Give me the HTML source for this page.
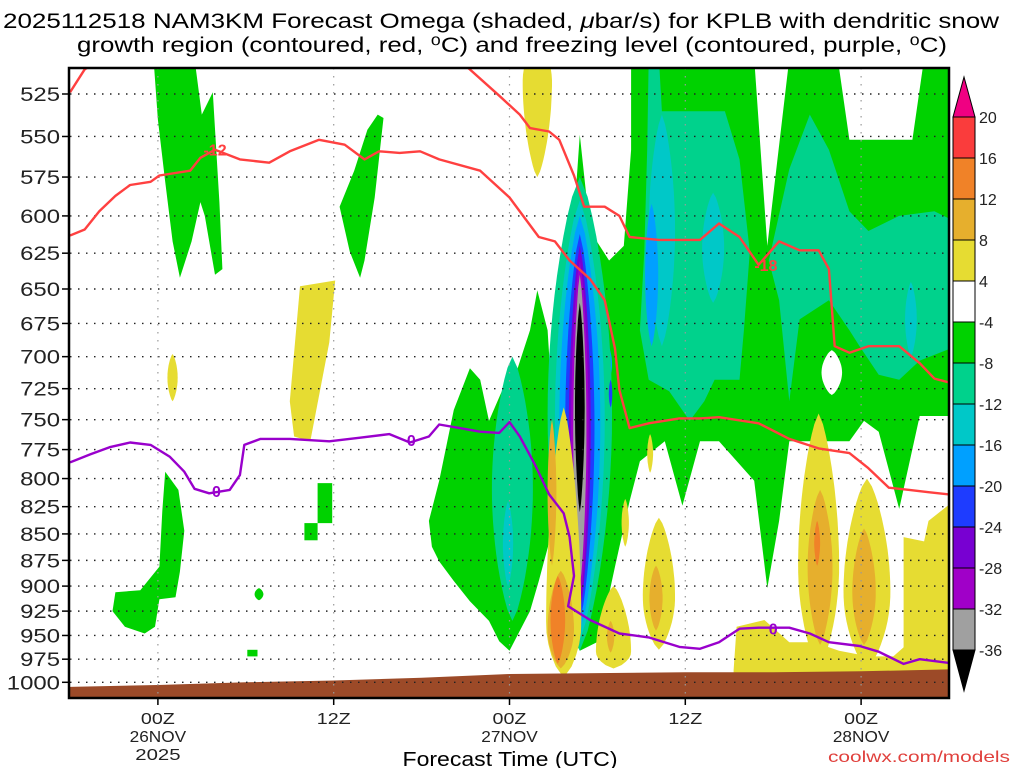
<!DOCTYPE html>
<html><head><meta charset="utf-8"><style>
html,body{margin:0;padding:0;background:#fff;width:1024px;height:768px;overflow:hidden}
svg{display:block;font-family:"Liberation Sans",sans-serif}
</style></head><body>
<svg id="chart" width="1024" height="768" viewBox="0 0 1024 768" xmlns="http://www.w3.org/2000/svg">
<text x="501" y="28" text-anchor="middle" font-size="21" fill="#000" textLength="996" lengthAdjust="spacingAndGlyphs">2025112518 NAM3KM Forecast Omega (shaded, <tspan font-style="italic">μ</tspan>bar/s) for KPLB with dendritic snow</text>
<text x="512" y="52" text-anchor="middle" font-size="21" fill="#000" textLength="870" lengthAdjust="spacingAndGlyphs">growth region (contoured, red, ⁰C) and freezing level (contoured, purple, ⁰C)</text>
<defs><clipPath id="plotclip"><rect x="70" y="68" width="878" height="629"/></clipPath></defs>
<g id="shading" clip-path="url(#plotclip)"></g>
<g id="grid"></g>
<g id="lines" clip-path="url(#plotclip)"></g>
<g id="axes"></g>
<g id="cbar"></g>
<text x="510" y="766" text-anchor="middle" font-size="20" fill="#000" textLength="215" lengthAdjust="spacingAndGlyphs">Forecast Time (UTC)</text>
<text x="1010" y="762" text-anchor="end" font-size="16" fill="#e0403c" textLength="182" lengthAdjust="spacingAndGlyphs">coolwx.com/models</text>
</svg>
<script>
// ---- data ----
const pressureTicks = [525,550,575,600,625,650,675,700,725,750,775,800,825,850,875,900,925,950,975,1000];
const timeTickHours = [6,18,30,42,54];
const timeTickLabels = [["00Z","26NOV","2025"],["12Z"],["00Z","27NOV"],["12Z"],["00Z","28NOV"]];
const cbarLevels = [20,16,12,8,4,-4,-8,-12,-16,-20,-24,-28,-32,-36];
const cbarColors = ["#f00082","#fa3c3c","#f08228","#e6af2d","#e6dc32","#ffffff","#00d200","#00d28c","#00c8c8","#00a0ff","#1e3cff","#7800d2","#a000c8","#a0a0a0","#000000"];
const C = {green:"#00d200",teal:"#00d28c",cyan:"#00c8c8",blue:"#00a0ff",dblue:"#1e3cff",purple:"#7800d2",violet:"#a000c8",gray:"#a0a0a0",black:"#000000",yellow:"#e6dc32",dyellow:"#e6af2d",orange:"#f08228",white:"#ffffff"};

// polygons: [color, hours[], pressures[]]
const polyGreenMain = ["green",
 [38.3,46.7,47.6,49.1,52.4,53.2,57.5,58.3,60.5,60.5,58,56.6,55.2,54.2,53.2,49.1,48.4,47.6,46.7,44.3,43,41.8,40.6,38.9,38.2,37.2,36.1,34.8,33.7,33.1,32.9,33.4,34.1,34.8,35.5,36.8,37.8,38.3],
 [505,505,620,505,505,552,552,505,505,747,747,827,760,751,768,768,838,902,802,768,768,824,768,785,820,881,956,966,935,838,735,680,644,549,610,630,620,558]];
const polyGreenLowLeft = ["green",
 [24.5,25.2,26.2,27.3,28,28.6,29.7,30.3,31.4,31.9,32.6,32.9,33.1,32,31.4,30,29.3,28.6,27.3,26.2,25.2,24.7],
 [838,802,742,709,718,751,721,718,680,651,680,735,838,895,925,966,956,935,915,895,876,862]];
const polyGreenTopLeft = ["green",
 [5.7,8.5,9,9.75,10.2,10.4,9.9,9.2,8.9,8.3,7.5,7,6.5,6],
 [505,505,537,524,591,636,640,600,591,617,642,617,578,540]];
const polyGreenCol = ["green",[21,21.4,20.8,20.1,19.8,19.1,18.4,19.4,20.3],[537,539,588,630,642,624,594,571,546]];
const polyGreenLeftLow = ["green",
 [6.5,7.4,7.8,7.5,7.2,6.1,5.8,5.1,3.75,2.9,3.1,4.8,6.1,6.3],
 [794,810,847,886,911,913,941,948,941,925,906,904,881,829]];
const polyGreenSq1 = ["green",[16.9,17.9,17.9,16.9],[804,804,840,840]];
const polyGreenSq2 = ["green",[16,16.9,16.9,16],[840,840,856,856]];
const polyGreenSq3 = ["green",[12.1,12.8,12.8,12.1],[965,965,972,972]];
const polyTealLeft = ["teal",
 [39.5,40.2,40.4,42.6,44.7,45.7,46.4,46,45.7,44,43.3,42.3,40.9,39.5,38.9,39.2,39.4],
 [505,505,535,535,535,564,624,680,718,718,735,751,727,718,680,624,558]];
const polyTealRight = ["teal",
 [47.7,49.1,50.5,51.8,53.2,54.5,56.6,59,60.5,60.5,58,56.6,55.2,53.9,53.2,51.8,49.8,49.1,48.4],
 [630,570,537,558,597,610,600,597,604,692,703,718,714,692,680,658,672,735,658]];
const polyYellowBand = ["yellow",
 [45.3,45.5,47.4,49.1,50.8,52.5,54.5,56.2,57.3,58.6,60.5,60.5,45.3],
 [987,941,934,957,957,966,972,972,957,976,976,995,995]];
const polyYellowRight = ["yellow",[56.9,58.3,58.6,60.5,60.5,56.9],[853,857,838,818,995,995]];
const polyYellowLeft = ["yellow",[15.7,18.1,17.7,16.4,15.3,15],[648,644,689,768,764,735]];
const polys = [polyGreenMain,polyGreenLowLeft,polyGreenTopLeft,polyGreenCol,polyGreenLeftLow,polyGreenSq1,polyGreenSq2,polyGreenSq3,polyTealLeft,polyTealRight];
const polysPos = [polyYellowBand,polyYellowRight,polyYellowLeft];

// lenses: color, center hour, top pressure, bottom pressure, half-width (hours), peak position
const lensColor = ["green","teal","cyan","white","cyan","blue","cyan","cyan","blue","teal","cyan","blue","dblue","purple","violet","gray","black","dblue",
 "yellow","dyellow","orange","dyellow","yellow","dyellow","yellow","dyellow","yellow","yellow","yellow","yellow","dyellow","orange","yellow","dyellow","yellow"];
const lensHour = [12.9,30.2,29.9,52,40.4,39.7,43.9,57.4,36.4,34.8,34.8,34.8,34.8,34.8,34.8,34.8,34.8,36.9,
 33.7,33.5,33.3,32.9,37.1,36.9,40.2,40,39.6,37.9,31.9,51.1,51.2,51,54.4,54.2,7.0];
const lensTop = [902,700,820,695,537,592,585,645,685,575,590,600,612,620,630,640,660,718,
 740,885,890,750,900,935,835,880,762,818,495,745,810,838,800,845,698];
const lensBot = [914,935,900,730,692,692,660,700,727,966,955,945,935,925,915,900,830,740,
 995,985,980,880,985,968,965,945,795,862,575,985,960,880,985,960,735];
const lensHalf = [0.3,1.4,0.35,0.7,0.9,0.45,0.75,0.4,0.6,2.2,1.7,1.4,1.0,0.75,0.6,0.45,0.33,0.12,
 1.2,0.9,0.5,0.3,1.2,0.25,1.1,0.45,0.2,0.25,1.0,1.4,0.85,0.2,1.6,0.8,0.35];
const lensPeak = [0.5,0.5,0.5,0.5,0.5,0.5,0.5,0.5,0.5,0.5,0.5,0.5,0.5,0.5,0.5,0.5,0.5,0.5,
 0.8,0.6,0.5,0.5,0.8,0.5,0.6,0.5,0.5,0.5,0.3,0.6,0.5,0.5,0.6,0.55,0.5];

// terrain surface
const terrainHours = [0,6,12,18,24,30,36,42,48,54,60];
const terrainPres = [1005,1003,1000,998,995,991,990,989,989,988,986];

// contour lines
const redUpperHours = [0,1,2,26.6,29.3,30.7,31.4,32.7,33.4,34.4,35.1,36.5,37.5,38.2,40.2,43,44.3,45.7,47,48.4,49.8,51.1,51.8,52.2,53.2,54.5,56.6,58,59,60];
const redUpperPres  = [524,511,506,506,526,537,545,547,552,574,594,594,600,614,616,616,605,614,633,617,623,623,636,692,697,692,692,705,717,720];
const redLowerHours = [0,1,2,3.1,4.1,5.5,6.1,8.2,8.9,9.9,11.6,13.6,15,17,18.75,20.1,21.1,22.5,23.9,25.2,28,30,32,33.1,34.1,35.5,36.5,37.2,37.5,38.2,39.5,41.6,43,44.3,47,49.1,51.1,53.2,54.5,55.9,57.3,58.6,60];
const redLowerPres  = [613,609,597,587,580,578,574,571,563,558,564,566,559,552,555,564,559,560,559,564,571,588,614,617,630,643,658,694,726,757,753,749,749,748,753,766,774,778,791,808,810,812,814];
const frzHours = [0,1.4,2.7,4.1,5.5,6.8,7.8,8.5,9.5,10.9,11.6,11.9,13,15,17.7,19.8,21.8,23.2,24.5,25.2,26.6,28,29.3,30,30.7,31.7,32.7,33.7,34.1,34.4,34,35.5,37.5,39.5,41.6,43,44.3,45.7,47,49.1,50.5,51.8,53.9,55.2,56.9,58,60];
const frzPres  = [786,779,773,769,771,781,794,809,813,810,797,771,766,766,768,765,762,769,764,754,757,760,761,752,764,787,814,831,853,890,920,934,948,952,962,964,957,943,942,942,948,957,961,967,980,975,979];
const contourLabels = [["-12",9.9,558,"#ff4040"],["-18",47.5,633,"#ff4040"],["0",10,811,"#9900cc"],["0",23.3,767,"#9900cc"],["0",48,943,"#9900cc"]];

// ---- scales ----
const X0=70, PXH=14.65;
function xOf(h){return X0+h*PXH;}
function yOf(p){return 94+913*Math.log(p/525);}
const NS="http://www.w3.org/2000/svg";
function mk(tag,attrs,parent){const e=document.createElementNS(NS,tag);for(const k in attrs)e.setAttribute(k,attrs[k]);parent.appendChild(e);return e;}

const shading=document.getElementById('shading');
function drawPoly(poly,name){
  const pts=poly[1].map((h,i)=>xOf(h).toFixed(1)+","+yOf(poly[2][i]).toFixed(1)).join(" ");
  const e=mk('polygon',{points:pts,fill:C[poly[0]]},shading);
  
  
}
function drawLens(i){
  const yt=yOf(lensTop[i]), yb=yOf(lensBot[i]), cx=xOf(lensHour[i]), hw=lensHalf[i]*PXH, pk=lensPeak[i];
  const L=[],R=[];
  for(let k=0;k<=24;k++){
    const t=k/24; const tt = t<pk ? 0.5*t/pk : 0.5+0.5*(t-pk)/(1-pk);
    const w=hw*Math.pow(Math.sin(Math.PI*tt),0.7);
    const y=yt+(yb-yt)*t;
    L.push((cx-w).toFixed(1)+","+y.toFixed(1)); R.unshift((cx+w).toFixed(1)+","+y.toFixed(1));
  }
  const e=mk('polygon',{points:L.concat(R).join(" "),fill:C[lensColor[i]]},shading);
  
  
}
polys.forEach((p,i)=>drawPoly(p,'omega-region-'+p[0]));
for(let i=0;i<18;i++) drawLens(i);
polysPos.forEach(p=>drawPoly(p,'omega-region-'+p[0]));
for(let i=18;i<lensColor.length;i++) drawLens(i);
// terrain
{
  let d="M"+xOf(-1)+",700 ";
  terrainHours.forEach((h,i)=>{d+="L"+xOf(h).toFixed(1)+","+yOf(terrainPres[i]).toFixed(1)+" ";});
  d+="L"+xOf(61)+","+yOf(terrainPres[terrainPres.length-1]).toFixed(1)+" L"+xOf(61)+",700 Z";
  const e=mk('path',{d:d,fill:"#9c4a28"},shading);
  
  
}
// grid
const grid=document.getElementById('grid');
pressureTicks.forEach(p=>{
  const e=mk('line',{x1:70,x2:948,y1:yOf(p),y2:yOf(p),stroke:"#222","stroke-width":1.4,"stroke-dasharray":"1.5 6.5"},grid);
  
  
});
timeTickHours.forEach(h=>{
  const e=mk('line',{x1:xOf(h),x2:xOf(h),y1:68,y2:697,stroke:"#999","stroke-width":1.2,"stroke-dasharray":"1.5 6.5"},grid);
  
  
});
// lines
const lines=document.getElementById('lines');
function drawLine(hs,ps,color,name){
  const pts=hs.map((h,i)=>xOf(h).toFixed(1)+","+yOf(ps[i]).toFixed(1)).join(" ");
  const e=mk('polyline',{points:pts,fill:"none",stroke:color,"stroke-width":2.4,"stroke-linejoin":"round"},lines);
  
  
}
drawLine(redUpperHours,redUpperPres,"#ff4040","dgz-upper-contour");
drawLine(redLowerHours,redLowerPres,"#ff4040","dgz-lower-contour");
drawLine(frzHours,frzPres,"#9900cc","freezing-level-contour");
contourLabels.forEach(l=>{
  const x=xOf(l[1]), y=yOf(l[2]);
  const t=mk('text',{x:x,y:y+6,"text-anchor":"middle","font-size":16,"font-weight":"bold",fill:l[3]},lines);
  t.textContent=l[0];
  
  
});
// axes
const axes=document.getElementById('axes');
mk('rect',{x:69,y:68,width:880,height:630,fill:"none",stroke:"#000","stroke-width":2.5},axes);
pressureTicks.forEach(p=>{
  const y=yOf(p);
  mk('line',{x1:62,x2:70,y1:y,y2:y,stroke:"#000","stroke-width":1.5},axes);
  const t=mk('text',{x:60,y:y+7,"text-anchor":"end","font-size":19,fill:"#222",textLength:(String(p).length*13.3),lengthAdjust:"spacingAndGlyphs"},axes);
  t.textContent=p;
  
  
});
timeTickHours.forEach((h,i)=>{
  const x=xOf(h);
  mk('line',{x1:x,x2:x,y1:697,y2:705,stroke:"#000","stroke-width":1.5},axes);
  timeTickLabels[i].forEach((s,j)=>{
    const t=mk('text',{x:x,y:724+j*18,"text-anchor":"middle","font-size":16,fill:"#222",textLength:(s.length*11.3),lengthAdjust:"spacingAndGlyphs"},axes);
    t.textContent=s;
    
    
  });
});
// colorbar
const cbar=document.getElementById('cbar');
const cbTop=117, cbStep=41, cbX=953, cbW=22;
mk('polygon',{points:`${cbX},${cbTop} ${cbX+cbW},${cbTop} ${cbX+cbW/2},77`,fill:cbarColors[0],stroke:"#000","stroke-width":1},cbar);
for(let i=1;i<cbarColors.length-1;i++){
  const e=mk('rect',{x:cbX,y:cbTop+(i-1)*cbStep,width:cbW,height:cbStep,fill:cbarColors[i],stroke:"#000","stroke-width":1},cbar);
  
  
}
const lastY=cbTop+(cbarColors.length-2)*cbStep;
mk('polygon',{points:`${cbX},${lastY} ${cbX+cbW},${lastY} ${cbX+cbW/2},${lastY+41}`,fill:cbarColors[cbarColors.length-1],stroke:"#000","stroke-width":1},cbar);
cbarLevels.forEach((v,i)=>{
  const y=cbTop+i*cbStep;
  const t=mk('text',{x:979,y:y+6,"font-size":16,fill:"#222"},cbar);
  t.textContent=v;
  
  
});
</script>
</body></html>
